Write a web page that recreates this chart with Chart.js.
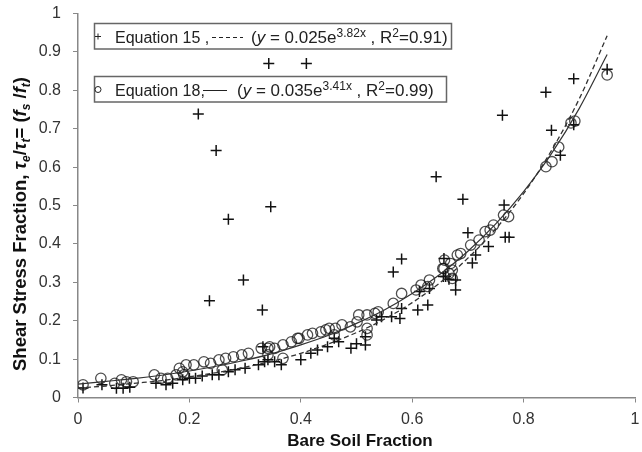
<!DOCTYPE html>
<html>
<head>
<meta charset="utf-8">
<script src="https://cdn.jsdelivr.net/npm/chart.js@4.4.1/dist/chart.umd.min.js"></script>
<style>
html, body { margin: 0; padding: 0; background: #fff; }
</style>
</head>
<body>
<canvas id="myChart" width="642" height="452"></canvas>
<script>
// Equation 15 data ("+" markers)
const eq15X = [0.009, 0.043, 0.069, 0.081, 0.093, 0.14, 0.158, 0.17, 0.188, 0.2, 0.211, 0.223, 0.241, 0.253,
  0.27, 0.282, 0.3, 0.324, 0.335, 0.341, 0.353, 0.365, 0.40, 0.418, 0.43, 0.448, 0.468, 0.46, 0.49, 0.5,
  0.516, 0.516, 0.536, 0.545, 0.563, 0.578, 0.581, 0.61, 0.628, 0.613, 0.631, 0.656, 0.66, 0.666, 0.678,
  0.678, 0.657, 0.708, 0.714, 0.737, 0.767, 0.774, 0.70, 0.765, 0.866, 0.85, 0.89, 0.95,
  0.3425, 0.41, 0.216, 0.248, 0.346, 0.27, 0.297, 0.236, 0.331, 0.332, 0.581, 0.566, 0.643, 0.691,
  0.762, 0.84, 0.89];
const eq15Y = [0.025, 0.033, 0.024, 0.024, 0.027, 0.037, 0.033, 0.037, 0.046, 0.05, 0.05, 0.056, 0.059, 0.059,
  0.067, 0.072, 0.076, 0.085, 0.093, 0.098, 0.093, 0.085, 0.098, 0.115, 0.124, 0.132, 0.145, 0.154, 0.128, 0.14,
  0.137, 0.158, 0.202, 0.21, 0.21, 0.206, 0.232, 0.228, 0.241, 0.276, 0.284, 0.315, 0.315, 0.308, 0.306,
  0.28, 0.362, 0.35, 0.371, 0.393, 0.417, 0.417, 0.429, 0.501, 0.631, 0.696, 0.71, 0.855,
  0.87, 0.87, 0.738, 0.643, 0.497, 0.464, 0.306, 0.252, 0.228, 0.132, 0.361, 0.327, 0.575, 0.516,
  0.735, 0.795, 0.83];

// Equation 18 data (open circles)
const eq18X = [0.009, 0.041, 0.066, 0.078, 0.087, 0.099, 0.137, 0.149, 0.161, 0.176, 0.182, 0.188, 0.19, 0.194,
  0.208, 0.226, 0.238, 0.253, 0.259, 0.265, 0.279, 0.294, 0.306, 0.329, 0.341, 0.344, 0.341, 0.353, 0.368,
  0.368, 0.383, 0.394, 0.397, 0.412, 0.421, 0.436, 0.445, 0.451, 0.46, 0.462, 0.474, 0.489, 0.501, 0.504,
  0.519, 0.519, 0.519, 0.533, 0.539, 0.566, 0.581, 0.607, 0.616, 0.628, 0.631, 0.655, 0.658, 0.669, 0.672,
  0.681, 0.687, 0.705, 0.72, 0.731, 0.74, 0.746, 0.764, 0.773, 0.84, 0.851, 0.863, 0.885, 0.892, 0.95,
  0.657, 0.666, 0.672];
const eq18Y = [0.033, 0.05, 0.037, 0.046, 0.041, 0.041, 0.059, 0.05, 0.05, 0.059, 0.076, 0.067, 0.059, 0.085,
  0.085, 0.093, 0.089, 0.098, 0.072, 0.102, 0.106, 0.111, 0.115, 0.128, 0.128, 0.132, 0.111, 0.128, 0.137,
  0.102, 0.145, 0.154, 0.154, 0.163, 0.167, 0.171, 0.176, 0.18, 0.163, 0.18, 0.189, 0.184, 0.197, 0.215,
  0.215, 0.163, 0.18, 0.219, 0.223, 0.245, 0.271, 0.28, 0.293, 0.289, 0.306, 0.336, 0.358, 0.349, 0.332,
  0.371, 0.375, 0.397, 0.41, 0.432, 0.436, 0.449, 0.475, 0.471, 0.601, 0.614, 0.652, 0.715, 0.72, 0.84,
  0.336, 0.323, 0.31];

// trend lines
const fitX   = [0, 0.05, 0.1, 0.15, 0.2, 0.25, 0.3, 0.35, 0.4, 0.45, 0.5, 0.55, 0.6, 0.65, 0.7, 0.75, 0.8, 0.85, 0.9, 0.95];
const fit15Y = [0.025, 0.030, 0.037, 0.044, 0.054, 0.065, 0.079, 0.095, 0.115, 0.140, 0.169, 0.204, 0.247, 0.299, 0.363, 0.439, 0.531, 0.643, 0.778, 0.942];
const fit18Y = [0.035, 0.042, 0.049, 0.058, 0.069, 0.082, 0.097, 0.115, 0.137, 0.162, 0.193, 0.228, 0.271, 0.321, 0.381, 0.452, 0.536, 0.635, 0.753, 0.893];

const xTicks = [0, 0.2, 0.4, 0.6, 0.8, 1];
const yTicks = [0, 0.1, 0.2, 0.3, 0.4, 0.5, 0.6, 0.7, 0.8, 0.9, 1];

const FONT = '"Liberation Sans", Arial, sans-serif';
const toPts = (xs, ys) => xs.map((x, i) => ({ x: x, y: ys[i] }));

// draw a list of [text, font, dy] pieces one after another
function drawRuns(ctx, runs, x, y) {
    runs.forEach(r => {
        ctx.font = r[1];
        ctx.fillText(r[0], x, y + (r[2] || 0));
        x += ctx.measureText(r[0]).width;
    });
    return x;
}
function runsWidth(ctx, runs) {
    let w = 0;
    runs.forEach(r => { ctx.font = r[1]; w += ctx.measureText(r[0]).width; });
    return w;
}

// titles and the two legend boxes
const decorPlugin = {
    id: 'decor',
    afterDraw(chart) {
        const ctx = chart.ctx;
        ctx.save();
        ctx.fillStyle = '#111';
        ctx.textBaseline = 'alphabetic';

        // x title
        ctx.font = 'bold 17px ' + FONT;
        ctx.textAlign = 'center';
        ctx.fillText('Bare Soil Fraction', 360, 446);
        ctx.textAlign = 'left';

        // y title, rotated, with subscripts
        const B = 'bold 18.5px ' + FONT, BI = 'italic bold 18.5px ' + FONT, S = 'italic bold 12px ' + FONT;
        const yRuns = [['Shear Stress Fraction, ', B], ['\u03c4', BI], ['e', S, 4], ['/', B], ['\u03c4', BI], ['t', S, 4],
            ['= (', B], ['f', BI], ['s', S, 4], [' /', B], ['f', BI], ['t', S, 4], [')', B]];
        ctx.save();
        ctx.translate(20, 224);
        ctx.rotate(-Math.PI / 2);
        drawRuns(ctx, yRuns, -runsWidth(ctx, yRuns) / 2, 6);
        ctx.restore();

        // legend boxes
        const N = '16px ' + FONT, E = '17px ' + FONT, I = 'italic 17px ' + FONT, SUP = '12px ' + FONT;
        ctx.fillStyle = '#222';
        ctx.strokeStyle = '#666';
        ctx.lineWidth = 1.5;
        ctx.strokeRect(94.5, 23.5, 357, 25.5);
        ctx.strokeRect(94.5, 76.5, 352, 25.5);

        // box 1
        ctx.lineWidth = 1;
        ctx.strokeStyle = '#222';
        ctx.beginPath();
        ctx.moveTo(95, 36.5); ctx.lineTo(101, 36.5);
        ctx.moveTo(98, 33.5); ctx.lineTo(98, 39.5);
        ctx.stroke();
        ctx.font = N;
        ctx.fillText('Equation 15 ,', 115, 43);
        ctx.setLineDash([4, 3]);
        ctx.beginPath(); ctx.moveTo(212, 37.5); ctx.lineTo(243, 37.5); ctx.stroke();
        ctx.setLineDash([]);
        drawRuns(ctx, [['(', E], ['y', I], [' = 0.025e', E], ['3.82x', SUP, -6], [' , R', E], ['2', SUP, -6], ['=0.91)', E]], 251, 43);

        // box 2
        ctx.beginPath(); ctx.arc(98, 89.5, 3, 0, Math.PI * 2); ctx.stroke();
        ctx.font = N;
        ctx.fillText('Equation 18,', 115, 96);
        ctx.beginPath(); ctx.moveTo(203, 90.5); ctx.lineTo(227, 90.5); ctx.stroke();
        drawRuns(ctx, [['(', E], ['y', I], [' = 0.035e', E], ['3.41x', SUP, -6], [' , R', E], ['2', SUP, -6], ['=0.99)', E]], 237, 96);
        ctx.restore();
    }
};

const tickFont = { family: FONT, size: 16 };

new Chart(document.getElementById('myChart').getContext('2d'), {
    type: 'scatter',
    data: {
        datasets: [
            {
                data: toPts(fitX, fit15Y), showLine: true, pointRadius: 0,
                borderColor: '#333', borderWidth: 1.3, borderDash: [5, 3],
                tension: 0.4, cubicInterpolationMode: 'monotone', order: 0
            },
            {
                data: toPts(fitX, fit18Y), showLine: true, pointRadius: 0,
                borderColor: '#333', borderWidth: 1.2,
                tension: 0.4, cubicInterpolationMode: 'monotone', order: 0
            },
            {
                data: toPts(eq18X, eq18Y), pointStyle: 'circle', pointRadius: 5.2,
                borderColor: 'rgba(20,20,20,0.75)', backgroundColor: 'rgba(255,255,255,0)',
                borderWidth: 1.3, order: 2
            },
            {
                data: toPts(eq15X, eq15Y), pointStyle: 'cross', pointRadius: 5.5,
                borderColor: '#111', borderWidth: 1.5, order: 1
            }
        ]
    },
    options: {
        responsive: false,
        animation: false,
        layout: { padding: { top: 13.5, right: 0, bottom: 0, left: 0 } },
        plugins: { legend: { display: false }, tooltip: { enabled: false } },
        scales: {
            x: {
                type: 'linear', min: 0, max: 1,
                afterFit: s => { s.height = 54.5; s.paddingLeft = 0; s.paddingRight = 0; },
                afterBuildTicks: s => { s.ticks = xTicks.map(v => ({ value: v })); },
                ticks: { callback: v => String(v), font: tickFont, color: '#333', padding: 7, maxRotation: 0, autoSkip: false },
                grid: { drawOnChartArea: false, color: '#888', tickLength: 5 },
                border: { color: '#888', width: 1.5 }
            },
            y: {
                type: 'linear', min: 0, max: 1,
                afterFit: s => { s.width = 78; s.paddingTop = 0; s.paddingBottom = 0; },
                afterBuildTicks: s => { s.ticks = yTicks.map(v => ({ value: v })); },
                ticks: { callback: v => String(v), font: tickFont, color: '#333', padding: 12, autoSkip: false },
                grid: { drawOnChartArea: false, color: '#888', tickLength: 5 },
                border: { color: '#888', width: 1.5 }
            }
        }
    },
    plugins: [decorPlugin]
});
</script>
</body>
</html>
